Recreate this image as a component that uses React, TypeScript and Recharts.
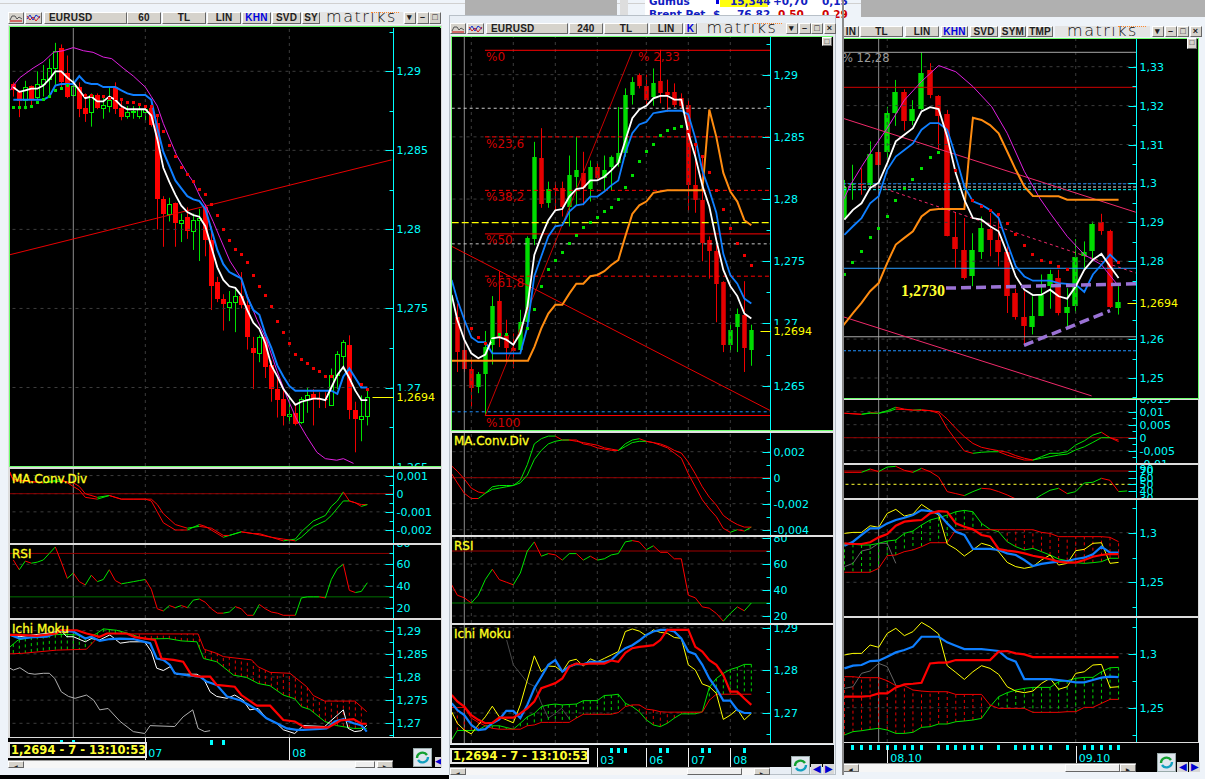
import React from 'react';
import { ComposedChart, Line, Bar, XAxis, YAxis, ReferenceLine } from 'recharts';

type Pt = { i: number; v: number };
const seq = (vals: number[], start = 0): Pt[] => vals.map((v, k) => ({ i: start + k, v }));
const pairs = (l: number[][]): Pt[] => l.map(([i, v]) => ({ i, v }));
const lead = (vals: number[]): Pt[] => vals.map((v, k) => ({ i: k === 0 ? -0.8 : k - 1, v }));

// ---------- window 1 : EURUSD 60 ----------
const w1Ohlc = [
[1.2892,1.2893,1.2884,1.2888],[1.2887,1.2888,1.2871,1.2881],[1.2882,1.2894,1.2876,1.289],[1.2891,1.2891,1.2878,1.2882],
[1.2884,1.29,1.2882,1.2892],[1.2892,1.2904,1.2884,1.2895],[1.2895,1.2908,1.2885,1.2902],[1.2902,1.2918,1.2891,1.2913],
[1.2915,1.2917,1.289,1.2893],[1.2899,1.291,1.2883,1.2884],[1.2885,1.2895,1.2884,1.2891],[1.289,1.2893,1.2871,1.2876],
[1.2877,1.2886,1.2868,1.2873],[1.2874,1.2886,1.2865,1.2885],[1.2885,1.2886,1.2876,1.2877],[1.2877,1.2883,1.287,1.2879],
[1.2878,1.289,1.2874,1.2882],[1.289,1.2893,1.2873,1.2876],[1.2877,1.2883,1.2869,1.2871],[1.2872,1.2878,1.287,1.2874],
[1.2874,1.2878,1.287,1.2875],[1.2872,1.2878,1.287,1.2876],[1.2874,1.2877,1.2869,1.2876],[1.2877,1.2879,1.2865,1.2866],
[1.2867,1.2872,1.28,1.2819],[1.2819,1.2821,1.2789,1.281],[1.281,1.282,1.2805,1.2816],[1.2817,1.2817,1.2789,1.2804],
[1.2804,1.281,1.2792,1.2806],[1.2808,1.2814,1.2794,1.2799],[1.2799,1.281,1.2787,1.2806],[1.2806,1.2813,1.278,1.2807],
[1.2814,1.2816,1.2783,1.2793],[1.2793,1.2802,1.2749,1.2764],[1.2767,1.277,1.2754,1.2756],[1.2756,1.2759,1.2736,1.2753],
[1.2751,1.2761,1.2742,1.2754],[1.2754,1.2762,1.2735,1.2758],[1.2758,1.2773,1.275,1.2752],[1.2752,1.2755,1.2724,1.2732],
[1.2725,1.2732,1.2699,1.2722],[1.2722,1.2733,1.2716,1.2732],[1.2732,1.2732,1.2706,1.2713],[1.2714,1.2717,1.2691,1.2699],
[1.2699,1.2707,1.2681,1.2692],[1.2693,1.27,1.2676,1.2682],[1.2682,1.2694,1.2677,1.2683],[1.2684,1.269,1.2676,1.2677],
[1.2678,1.2694,1.2677,1.2693],[1.2693,1.27,1.2684,1.2695],[1.2696,1.2699,1.2676,1.2693],[1.2693,1.2697,1.2687,1.2692],
[1.2693,1.2697,1.2687,1.2692],[1.2689,1.2712,1.2689,1.2708],[1.2708,1.2723,1.2699,1.2721],[1.272,1.273,1.2711,1.2729],
[1.2727,1.2733,1.268,1.2686],[1.2686,1.2691,1.2659,1.268],[1.268,1.2695,1.2666,1.2682],[1.2682,1.2699,1.2676,1.2694]];
const w1White = [1.289,1.2887,1.2888,1.2889,1.2889,1.2891,1.2895,1.29,1.29,1.2896,1.2893,1.2888,1.2883,1.2884,1.2881,1.2881,1.2884,1.2882,1.2878,1.2876,1.2876,1.2876,1.2876,1.2872,1.2857,1.2839,1.283,1.2822,1.2815,1.2811,1.2809,1.2808,1.2802,1.2789,1.2776,1.2768,1.2764,1.2763,1.2758,1.2749,1.2741,1.2737,1.2728,1.2714,1.2707,1.2699,1.2694,1.2689,1.2691,1.2692,1.2693,1.2693,1.2692,1.27,1.2708,1.2713,1.2706,1.2698,1.2692,1.2692];
const w1Blue = [1.2882,1.2882,1.2882,1.2882,1.2882,1.2882,1.2884,1.2891,1.2892,1.2892,1.2892,1.2897,1.2893,1.2892,1.2892,1.289,1.289,1.289,1.2888,1.2886,1.2885,1.2885,1.2885,1.2882,1.2864,1.2849,1.284,1.2831,1.2826,1.2821,1.2819,1.2818,1.2813,1.28,1.2787,1.2778,1.2773,1.2771,1.2769,1.2757,1.2749,1.2746,1.2734,1.2725,1.2714,1.2707,1.2701,1.2698,1.2698,1.2698,1.2698,1.2698,1.2698,1.2698,1.2696,1.2707,1.2712,1.2706,1.27,1.27];
const w1Magenta = [[-0.5,1.2888],[0,1.2891],[1.1,1.2896],[3.3,1.2902],[5,1.2906],[6.7,1.2912],[8.3,1.2913],[10,1.2915],[11.7,1.2913],[13.3,1.2912],[15,1.2909],[16.4,1.2908],[18.3,1.2902],[20,1.2897],[22,1.289],[23,1.2884],[24,1.2878],[25,1.2867],[26.1,1.2857],[27.2,1.2847],[28.9,1.2836],[30,1.283],[31.1,1.2821],[32.2,1.2814],[33.3,1.2805],[34.4,1.2795],[36.1,1.278],[37.8,1.277],[38.9,1.2759],[40.6,1.2743],[42.2,1.273],[43.9,1.2711],[45.6,1.2694],[47.2,1.268],[48.9,1.2669],[50.6,1.2659],[52,1.2655],[53.9,1.2654],[55,1.2655],[56.7,1.2652]];
const w1SarGreen = [1.2877,1.2877,1.2877,1.2878,1.288,1.2882,1.2884,1.2888,1.2889,1.2891];
const w1SarRed = [1.2885,1.2885,1.2884,1.2884,1.2883,1.2883,1.2882,1.288,1.288,1.2879,1.2878,1.2878,1.2872,1.2862,1.2853,1.2846,1.2839,1.2835,1.283,1.2825,1.2822,1.2816,1.2809,1.28,1.2793,1.2787,1.2784,1.2779,1.2771,1.2764,1.2758,1.2751,1.2742,1.2735,1.2728,1.2721,1.2718,1.2715,1.2712,1.271,1.2707,1.2707];
const w1SarRedEnd = [[58,1.2702],[59,1.2699]];
const w1Trend = [[-0.55,1.2784],[63.05,1.2844]];
const w1MacdFast = [[-0.55,0.0012],[0,0.0007],[2,0.0007],[5,0.0006],[8,0.0008],[10,0.0004],[11,0.0002],[12,-0.0002],[14,-0.0003],[16,-0.0001],[18,-0.0003],[20,-0.0003],[22,-0.0003],[23,-0.0004],[24,-0.001],[25,-0.0016],[27,-0.002],[29,-0.002],[31,-0.0017],[32,-0.0018],[33,-0.002],[35,-0.0024],[36,-0.0023],[38,-0.0021],[40,-0.0022],[41,-0.0022],[43,-0.0024],[45,-0.0026],[47,-0.0025],[48,-0.0021],[50,-0.0015],[52,-0.0012],[53,-0.0007],[54,-0.0004],[55,0.0001],[56,-0.0004],[58,-0.0006],[59,-0.0006]];
const w1MacdSlow = [[-0.55,0.0011],[0,0.0008],[2,0.0007],[5,0.0006],[8,0.0007],[10,0.0006],[11,0.0004],[12,0],[14,-0.0002],[16,-0.0001],[18,-0.0003],[22,-0.0003],[23,-0.0003],[24,-0.0006],[25,-0.0011],[27,-0.0017],[29,-0.0019],[31,-0.0018],[33,-0.0019],[35,-0.0023],[36,-0.0023],[38,-0.0021],[40,-0.0022],[43,-0.0024],[45,-0.0025],[47,-0.0026],[48,-0.0024],[50,-0.0018],[52,-0.0015],[53,-0.0012],[54,-0.0008],[55,-0.0004],[56,-0.0004],[57,-0.0005],[58,-0.0007],[59,-0.0006]];
const w1Rsi = [64,55,63,61,62,64,70,76,62,47,52,44,41,50,44,46,55,45,42,43,44,45,46,37,19,17,22,20,22,20,27,28,25,19,15,15,16,21,19,13,13,23,19,16,15,13,13,13,29,30,30,30,29,46,56,60,36,34,35,43];
const w1IchiWhite = [[-0.55,1.2892],[1.1,1.2887],[3.3,1.2891],[5.6,1.2894],[8,1.29],[8.9,1.2887],[10,1.2887],[12,1.2876],[13,1.2883],[14.4,1.288],[16.1,1.2891],[17.8,1.2873],[19.4,1.2876],[21.9,1.2876],[23,1.2855],[23.9,1.2819],[25,1.2814],[26.1,1.2822],[27.2,1.2806],[28.9,1.2806],[30.6,1.2806],[31.7,1.2797],[32.8,1.2768],[33.9,1.2758],[35.6,1.2754],[36.9,1.2761],[38.3,1.275],[39.4,1.2729],[40.8,1.2732],[42.2,1.2711],[43.9,1.27],[45,1.2686],[46.9,1.2678],[48.3,1.2695],[51.9,1.2693],[52.8,1.2704],[55,1.2729],[55.8,1.2689],[56.9,1.2682],[58,1.2684],[58.9,1.2696]];
const w1IchiBlue = [[-0.55,1.2891],[1.1,1.2883],[3.3,1.2886],[5.6,1.2887],[8,1.29],[10,1.2898],[12,1.2883],[13,1.2887],[14.4,1.2878],[16.1,1.2882],[17.8,1.2883],[20,1.2882],[21.9,1.2876],[22.8,1.2873],[23.9,1.284],[25,1.2837],[26.1,1.2826],[26.9,1.2808],[28.9,1.2804],[31.1,1.2801],[32.2,1.279],[33.9,1.2783],[35.6,1.2758],[37.8,1.275],[39.2,1.274],[40.6,1.2729],[42.2,1.2711],[43.9,1.27],[45.6,1.2689],[47.2,1.2686],[48.3,1.2686],[51.1,1.2688],[52.2,1.2689],[53.6,1.2704],[55,1.2709],[56.7,1.27],[58,1.2696],[58.9,1.2682]];
const w1IchiRed = [[-0.55,1.2891],[1.1,1.2891],[3.9,1.2889],[7.2,1.2894],[7.8,1.2901],[10.6,1.2901],[12.2,1.2894],[14.4,1.2887],[15.6,1.2894],[18.9,1.2894],[20.3,1.2886],[23.6,1.288],[24.7,1.284],[26.7,1.2837],[28.3,1.2833],[29.7,1.2804],[31.1,1.2801],[32.8,1.2801],[33.9,1.2783],[36.9,1.2779],[38,1.2761],[40.6,1.2738],[42.8,1.2738],[45,1.2707],[46.9,1.2704],[48.6,1.2691],[52.5,1.2691],[54.5,1.2706],[56.7,1.2709],[58,1.2699],[58.9,1.2699]];
const w1CloudA = [[-0.55,1.2865],[0.8,1.288],[3.3,1.2887],[6.1,1.2891],[8.3,1.2892],[10.6,1.2891],[12.2,1.2883],[13.9,1.2894],[15,1.2904],[17.2,1.2901],[19.2,1.2894],[21.9,1.2882],[25.8,1.2883],[28,1.2878],[30.6,1.2876],[31.7,1.284],[33.9,1.2833],[36.7,1.2804],[38.9,1.2799],[40.8,1.2786],[42.8,1.2781],[45,1.2761],[46.9,1.2753],[48,1.2736],[49.4,1.273],[51.9,1.2704],[53.9,1.2695],[56.7,1.2689],[58.9,1.2689]];
const w1CloudB = [[-0.55,1.285],[1.4,1.2851],[7.2,1.2858],[12.2,1.286],[13.9,1.2883],[15.6,1.2894],[20,1.2893],[30.8,1.2893],[31.8,1.286],[33.9,1.2851],[35,1.2844],[39.7,1.2837],[40.8,1.2822],[42.8,1.281],[46.1,1.2808],[48.9,1.2779],[50,1.276],[51.9,1.2748],[56.9,1.2748],[58.9,1.2725]];
const w1IchiGray = [[-0.55,1.2819],[0,1.2815],[1.1,1.282],[2.5,1.2808],[3.6,1.2806],[5,1.2808],[6,1.2808],[6.9,1.2797],[8,1.2768],[9.2,1.2758],[10.3,1.2754],[12.2,1.2761],[13.4,1.275],[14.4,1.2729],[15.8,1.2732],[17.8,1.2704],[20,1.2682],[21.9,1.2678],[22.8,1.2695],[26.9,1.2693],[28.3,1.2714],[29.9,1.2729],[30.8,1.2689],[31.9,1.2682],[32.8,1.2684]];
const w1Events = [8, 10, 33, 35];
const w1Days = [22, 46];
const w1DayLabels = ['07', '08'];

// ---------- window 2 : EURUSD 240 ----------
const w2Ohlc = [
[1.2705,1.2716,1.2661,1.2677],[1.2679,1.2707,1.2661,1.2663],[1.2663,1.2673,1.2633,1.2648],[1.2649,1.2661,1.2644,1.2659],
[1.2659,1.2694,1.2626,1.2681],[1.2683,1.2722,1.2667,1.2714],[1.2718,1.2742,1.2681,1.2689],[1.2691,1.2703,1.2669,1.268],
[1.268,1.2692,1.2664,1.2678],[1.2679,1.2711,1.2677,1.2701],[1.2701,1.277,1.2695,1.2769],[1.2768,1.2846,1.2763,1.2834],
[1.2833,1.2857,1.2793,1.2796],[1.2797,1.2814,1.2793,1.2808],[1.2809,1.2814,1.2791,1.2807],[1.2809,1.2814,1.2786,1.2794],
[1.2794,1.2835,1.2778,1.2819],[1.2818,1.285,1.2795,1.2823],[1.2821,1.2838,1.2795,1.2809],[1.2808,1.2831,1.2798,1.2826],
[1.2826,1.2829,1.2816,1.2817],[1.2817,1.2835,1.2807,1.2823],[1.2826,1.2835,1.2807,1.2834],[1.2829,1.2874,1.2826,1.2837],
[1.2837,1.2889,1.2834,1.2884],[1.2884,1.2898,1.2876,1.2894],[1.29,1.2901,1.2889,1.2891],[1.2891,1.29,1.2876,1.288],
[1.2882,1.2905,1.2875,1.2893],[1.2895,1.292,1.2877,1.2885],[1.2886,1.2896,1.287,1.2884],[1.2886,1.2893,1.2874,1.2876],
[1.2881,1.2885,1.2873,1.2875],[1.2876,1.288,1.279,1.2811],[1.2811,1.2845,1.2789,1.2799],[1.2799,1.2834,1.275,1.2765],
[1.2767,1.277,1.2736,1.2758],[1.2758,1.2763,1.2701,1.2732],[1.2733,1.2734,1.2677,1.2683],[1.2683,1.2701,1.2677,1.2695],
[1.2697,1.2712,1.2677,1.2708],[1.2707,1.2734,1.2661,1.268],[1.2679,1.2699,1.2666,1.2695]];
const w2White = [1.2723,1.2703,1.2687,1.2676,1.2672,1.2675,1.2688,1.2689,1.2687,1.2683,1.2692,1.2713,1.2755,1.277,1.2783,1.2791,1.2792,1.2802,1.2808,1.2809,1.2815,1.2815,1.2818,1.2823,1.2829,1.2847,1.2865,1.2872,1.2875,1.2881,1.2883,1.2883,1.288,1.288,1.2853,1.2834,1.2811,1.2794,1.2767,1.2743,1.273,1.2722,1.2708,1.2704];
const w2Blue = [1.2735,1.2719,1.2703,1.2689,1.2685,1.2685,1.2676,1.2676,1.2676,1.2676,1.2676,1.2697,1.2738,1.2754,1.277,1.2778,1.2779,1.279,1.2795,1.2796,1.2802,1.2802,1.2806,1.2811,1.2815,1.2837,1.2853,1.286,1.2862,1.2869,1.287,1.2871,1.2871,1.2871,1.2868,1.2849,1.2823,1.2807,1.2789,1.2756,1.2739,1.2732,1.272,1.2716];
const w2Orange = [[-0.8,1.267],[10.1,1.267],[11,1.2681],[12,1.2696],[13,1.2708],[14,1.2715],[15,1.2715],[16,1.2724],[17,1.2732],[18,1.2732],[19,1.2738],[20,1.2739],[21,1.2742],[22,1.2747],[23,1.2751],[24,1.277],[25,1.2788],[26,1.2795],[27,1.2798],[28,1.2805],[29,1.2806],[30,1.2807],[35,1.2807],[35.3,1.2826],[35.7,1.2853],[36,1.2872],[37,1.285],[38,1.2821],[39,1.2806],[40,1.2798],[41,1.2783],[42,1.2779]];
const w2SarGreen = [[5,1.2686],[6,1.2691],[7,1.2691],[10,1.2696],[11,1.2711],[12,1.273],[13,1.2743],[14,1.2751],[15,1.2757],[16,1.2764],[17,1.2771],[18,1.2777],[19,1.2781],[20,1.2785],[21,1.279],[22,1.2793],[23,1.28],[24,1.2809],[25,1.2819],[26,1.283],[27,1.2838],[28,1.2844],[29,1.2851],[30,1.2855],[31,1.2857],[32,1.2858]];
const w2SarRed = [[2,1.2696],[3,1.2689],[4,1.2684],[33,1.2854],[34,1.2844],[35,1.2834],[36,1.2821],[37,1.2807],[38,1.2792],[39,1.2776],[40,1.2764],[41,1.2755],[42,1.2747]];
const w2Fib = [1.29196, 1.285, 1.2807, 1.2772, 1.2738, 1.2626];
const w2FibDashed = [false, true, true, false, true, false];
const w2Rise = [[4,1.2626],[25.05,1.29196]];
const w2Fall = [[-0.8,1.2762],[44.7,1.263]];
const w2Macd = [0.0003,-0.0004,-0.0012,-0.0016,-0.0016,-0.0012,-0.0007,-0.0006,-0.0006,-0.0006,-0.0002,0.001,0.0026,0.003,0.0032,0.0032,0.0029,0.0029,0.0029,0.0026,0.0025,0.0023,0.0022,0.0021,0.0021,0.0026,0.0029,0.003,0.0028,0.0027,0.0025,0.0023,0.0019,0.0015,0.0003,-0.0007,-0.0017,-0.0024,-0.003,-0.0039,-0.0042,-0.004,-0.0041,-0.0038];
const w2Signal = [0.0009,0.0005,-0.0001,-0.0008,-0.0011,-0.0012,-0.0009,-0.0008,-0.0007,-0.0006,-0.0004,0.0002,0.0014,0.0021,0.0026,0.0028,0.0029,0.0029,0.0028,0.0027,0.0026,0.0025,0.0023,0.0022,0.0021,0.0024,0.0027,0.0028,0.0028,0.0027,0.0026,0.0024,0.0021,0.0019,0.0012,0.0003,-0.0007,-0.0015,-0.0021,-0.0029,-0.0033,-0.0036,-0.0038,-0.0038];
const w2Rsi = [44,36,34,30,36,48,56,48,46,44,53,70,77,66,68,67,63,68,68,63,66,63,64,67,68,77,78,77,71,74,69,69,64,64,36,34,27,26,22,16,22,27,24,30];
const w2IchiYellow = [1.2703,1.2676,1.266,1.2651,1.2672,1.2691,1.2716,1.2691,1.2684,1.2677,1.2719,1.2777,1.2834,1.2797,1.281,1.2809,1.2797,1.2822,1.2826,1.281,1.2827,1.282,1.2828,1.2836,1.2844,1.2891,1.2897,1.2892,1.2881,1.2895,1.2889,1.2887,1.2877,1.2875,1.2813,1.2801,1.2768,1.2762,1.2746,1.2685,1.2695,1.2709,1.2684,1.2699];
const w2IchiBlue = [1.2723,1.2707,1.2695,1.2672,1.266,1.2662,1.2676,1.2685,1.2705,1.2705,1.2688,1.2719,1.2758,1.2785,1.2813,1.2824,1.2797,1.2809,1.2815,1.2814,1.282,1.282,1.282,1.2824,1.284,1.2852,1.2859,1.287,1.2883,1.2891,1.2895,1.2895,1.2891,1.2875,1.2844,1.2838,1.2813,1.2781,1.2758,1.2729,1.2729,1.2707,1.27,1.27];
const w2IchiRed = [1.2742,1.2727,1.2715,1.2695,1.2684,1.2676,1.2677,1.2689,1.2689,1.2689,1.2699,1.2711,1.2727,1.2758,1.2764,1.277,1.2781,1.2809,1.2816,1.2814,1.2816,1.2816,1.2816,1.2823,1.282,1.2841,1.2852,1.2855,1.2857,1.2859,1.2871,1.2895,1.2895,1.2895,1.2895,1.2855,1.2844,1.2824,1.2813,1.2789,1.275,1.275,1.2734,1.2719];
const w2CloudA = [1.2637,1.2659,1.2659,1.2659,1.266,1.267,1.267,1.267,1.2666,1.2662,1.2676,1.2691,1.2699,1.2715,1.2719,1.2721,1.2719,1.272,1.2721,1.2729,1.2729,1.2729,1.2741,1.2742,1.2744,1.2723,1.2715,1.2703,1.2684,1.2672,1.2668,1.2676,1.2688,1.2698,1.2698,1.2698,1.2703,1.276,1.2781,1.2793,1.2802,1.2807,1.2814,1.2814];
const w2CloudB = [1.2713,1.2713,1.2713,1.2688,1.2678,1.267,1.2664,1.2662,1.2662,1.2662,1.2662,1.267,1.2672,1.2678,1.2678,1.2678,1.2678,1.2678,1.2688,1.2697,1.2697,1.2697,1.2697,1.2697,1.2701,1.2715,1.2719,1.2719,1.2709,1.2707,1.2703,1.2702,1.2702,1.2702,1.2702,1.2702,1.2702,1.273,1.2744,1.2744,1.2744,1.2744,1.2744,1.2744];
const w2IchiGray = [[7.05,1.2871],[8,1.2813],[10.1,1.277],[11.1,1.2762],[12,1.2723],[13,1.2688],[14,1.2699],[14.9,1.2711],[16.1,1.2684]];
const w2Events = [5, 17, 18, 22, 23, 24, 29, 30, 35, 36, 41];
const w2Days = [20, 27, 33, 39];
const w2DayLabels = ['03', '06', '07', '08'];

// ---------- window 3 : daily ----------
const w3Ohlc = [
[1.2911,1.3009,1.2907,1.2992],[1.2996,1.3048,1.2958,1.2998],[1.2998,1.3039,1.2971,1.2996],[1.2996,1.3108,1.2992,1.3076],
[1.3081,1.3086,1.3043,1.3048],[1.3082,1.3197,1.3061,1.318],[1.318,1.3266,1.3148,1.3235],[1.3235,1.3242,1.3136,1.3161],
[1.3161,1.3214,1.315,1.3191],[1.3191,1.3337,1.3189,1.3283],[1.3291,1.3309,1.3219,1.3226],[1.3225,1.3227,1.3086,1.3174],
[1.3179,1.3189,1.2864,1.2866],[1.2862,1.2924,1.2783,1.2831],[1.283,1.2911,1.2753,1.2757],[1.2761,1.2872,1.2736,1.283],
[1.2825,1.2915,1.2806,1.2885],[1.2884,1.2924,1.2813,1.2854],[1.2855,1.2924,1.2787,1.2825],[1.2825,1.2838,1.2667,1.271],
[1.2719,1.2729,1.265,1.2657],[1.2657,1.2723,1.2586,1.2633],[1.2631,1.271,1.2612,1.266],[1.266,1.2766,1.2659,1.2714],
[1.2737,1.2778,1.2678,1.2766],[1.2757,1.2778,1.2661,1.2666],[1.2666,1.2731,1.2629,1.2683],[1.2684,1.2857,1.2667,1.2811],
[1.2813,1.2851,1.2783,1.2825],[1.2827,1.2902,1.2804,1.2896],[1.2902,1.2922,1.2868,1.2877],[1.2879,1.2881,1.268,1.2683],
[1.2679,1.2736,1.2663,1.2696]];
const w3White = [1.2907,1.2932,1.2949,1.2988,1.3002,1.3052,1.3108,1.3125,1.3142,1.3185,1.3196,1.3191,1.312,1.3026,1.2958,1.2911,1.2907,1.289,1.2877,1.2821,1.2761,1.2727,1.2713,1.2714,1.2727,1.271,1.2704,1.2736,1.2778,1.2804,1.2819,1.2787,1.2757];
const w3Blue = [1.2868,1.289,1.2911,1.2949,1.2967,1.3035,1.3069,1.3086,1.3103,1.3138,1.3155,1.3155,1.3138,1.3069,1.2992,1.2954,1.2945,1.2932,1.2911,1.2847,1.2787,1.2761,1.275,1.275,1.275,1.2744,1.2742,1.274,1.2721,1.2766,1.2791,1.2817,1.2796];
const w3Orange = [[-0.2,1.2633],[1,1.2667],[2,1.2693],[3,1.2723],[4,1.2744],[5,1.2796],[6,1.2843],[7,1.286],[8,1.2877],[9,1.2915],[10,1.2932],[11,1.2934],[14,1.2934],[14.5,1.3061],[15,1.3169],[16,1.3163],[17,1.315],[18,1.3129],[19,1.3082],[20,1.3035],[21,1.2992],[22,1.2968],[24,1.2967],[25,1.2967],[26,1.2958],[32,1.2958]];
const w3Magenta = [[-0.1,1.2958],[0.7,1.2996],[2,1.3043],[3.4,1.3091],[5,1.3142],[7,1.3214],[9,1.3262],[11,1.3303],[13,1.3287],[15,1.3249],[17.2,1.3197],[19,1.3129],[21,1.3031],[22.8,1.2962],[24,1.2924],[26,1.2864],[28,1.2817],[30,1.2791],[32,1.2736]];
const w3SarGreen = [1.2767,1.2798,1.2825,1.286,1.2883,1.2915,1.2955,1.2986,1.3011,1.3038,1.3067,1.308];
const w3SarRed = [[13,1.3033],[15,1.2956],[16,1.2941],[17,1.2931],[18,1.2921],[19,1.2898],[20,1.287],[21,1.284],[22,1.2817],[23,1.2802],[24,1.2796],[25,1.2787],[26,1.278],[32,1.2798]];
const w3Levels = [1.3337, 1.3247, 1.2606, 1.2999, 1.2991, 1.2984, 1.2782, 1.257];
const w3LevelColors = ['#a8a8a8', '#d00000', '#a8a8a8', '#1f90ff', '#d8d8d8', '#00ffff', '#2a9cff', '#1f90ff'];
const w3LevelDashed = [false, false, false, true, true, true, false, true];
const w3TrendTop = [[-0.1,1.3167],[34,1.2926]];
const w3TrendMid = [[3.4,1.2996],[34,1.277]];
const w3TrendLow = [[-0.1,1.2657],[28.85,1.2454]];
const w3PurpleFlat = [[11.86,1.2731],[34.03,1.2742]];
const w3PurpleRise = [[20.96,1.2584],[31,1.2673]];
const w3MacdFast = [0.0094,0.0092,0.009,0.0096,0.0094,0.0104,0.0117,0.011,0.0106,0.0108,0.0104,0.0094,0.0036,-0.0009,-0.0051,-0.006,-0.0056,-0.0054,-0.0054,-0.0067,-0.0077,-0.0086,-0.0086,-0.0073,-0.006,-0.006,-0.0054,-0.0028,-0.0012,0.001,0.0021,0,-0.0015];
const w3MacdSlow = [0.0094,0.0092,0.009,0.0094,0.0094,0.01,0.011,0.0108,0.0106,0.0105,0.0104,0.01,0.0072,0.0036,0.0004,-0.0022,-0.0037,-0.0044,-0.005,-0.0056,-0.0069,-0.0079,-0.0086,-0.0079,-0.0073,-0.0067,-0.0063,-0.0047,-0.0035,-0.0018,0,0,-0.0009];
const w3Rsi = [68,68,68,73,69,76,77,71,68,74,69,61,39,36,33,39,44,43,39,34,28,24,26,34,41,44,36,39,52,53,59,56,39,40];
const w3A1Yellow = [1.2993,1.3003,1.3003,1.307,1.3054,1.3195,1.3235,1.3168,1.3188,1.3285,1.3228,1.3178,1.2886,1.2836,1.2765,1.2826,1.2893,1.2869,1.2809,1.2701,1.2658,1.2641,1.2658,1.2725,1.2775,1.2674,1.2691,1.2819,1.2832,1.2893,1.2899,1.2691,1.2701];
const w3A1Blue = [1.2869,1.2909,1.2977,1.3044,1.3044,1.3094,1.3128,1.3151,1.3178,1.3228,1.3218,1.3195,1.3094,1.301,1.2977,1.2836,1.2836,1.2836,1.2826,1.2792,1.2775,1.2725,1.2664,1.2685,1.2698,1.2708,1.2715,1.2735,1.2748,1.2782,1.2859,1.2799,1.2799];
const w3A1Red = [1.2893,1.2886,1.2886,1.2903,1.2953,1.2987,1.307,1.3111,1.3121,1.3128,1.3195,1.3218,1.3211,1.3094,1.306,1.3034,1.2977,1.296,1.2836,1.2819,1.2809,1.2792,1.2768,1.2752,1.2732,1.2708,1.2698,1.2698,1.2725,1.2758,1.2775,1.2785,1.2785];
const w3A1CloudA = [1.2893,1.2883,1.2876,1.2876,1.2893,1.2916,1.2926,1.2993,1.3017,1.3077,1.3128,1.3151,1.3178,1.3211,1.3225,1.3211,1.3094,1.3034,1.301,1.2909,1.2859,1.2826,1.2842,1.2809,1.2775,1.2735,1.2718,1.2698,1.2691,1.2698,1.2708,1.2742,1.2742];
const w3A1CloudB = [1.2601,1.2601,1.2601,1.2601,1.2641,1.2768,1.2775,1.2809,1.2826,1.2859,1.2899,1.2899,1.2899,1.3027,1.303,1.303,1.303,1.303,1.303,1.303,1.303,1.303,1.303,1.3003,1.2993,1.296,1.296,1.296,1.296,1.296,1.296,1.2953,1.2909];
const w3A1Gray = [1.2658,1.2691,1.2815,1.2836,1.2893,1.2893,1.2691];
const w3B2Yellow = [1.2988,1.3003,1.3003,1.308,1.3059,1.3188,1.3235,1.3167,1.3204,1.329,1.3244,1.3182,1.2889,1.2827,1.2762,1.2833,1.2889,1.2864,1.2809,1.2694,1.2654,1.2639,1.2654,1.2725,1.2772,1.267,1.2694,1.2818,1.2833,1.2895,1.2901,1.2688,1.2694];
const w3B2Blue = [1.2864,1.2889,1.2895,1.2932,1.2935,1.2972,1.3012,1.3034,1.3065,1.3157,1.3157,1.3157,1.3105,1.3074,1.3043,1.3043,1.3043,1.3034,1.3025,1.2957,1.2926,1.2765,1.2765,1.2765,1.2765,1.2756,1.2747,1.2735,1.2735,1.2756,1.2778,1.2787,1.2784];
const w3B2Red = [1.2602,1.2602,1.2602,1.2608,1.2633,1.2633,1.2688,1.2716,1.2722,1.2731,1.291,1.2917,1.2917,1.2941,1.2941,1.2941,1.2941,1.2941,1.3019,1.3025,1.3003,1.2994,1.2969,1.2969,1.2969,1.2969,1.2969,1.2969,1.2969,1.2969,1.2969,1.2969,1.2969];
const w3B2CloudA = [1.2247,1.2278,1.2287,1.2299,1.2309,1.2293,1.2262,1.2262,1.2272,1.2318,1.2324,1.2349,1.2349,1.237,1.2377,1.2386,1.2401,1.2509,1.2602,1.2639,1.2664,1.2679,1.2688,1.2688,1.2688,1.2741,1.275,1.2772,1.2781,1.2781,1.2833,1.287,1.2873];
const w3B2CloudB = [1.2787,1.2787,1.2778,1.2778,1.2778,1.275,1.2704,1.2704,1.2664,1.2654,1.2648,1.2648,1.2648,1.2623,1.2623,1.2623,1.2623,1.2525,1.2494,1.2494,1.2494,1.2494,1.2457,1.2457,1.2457,1.2457,1.2463,1.2463,1.2503,1.2503,1.254,1.2577,1.2577];
const w3B2Gray = [1.2679,1.2694,1.2818,1.284,1.291,1.288,1.271];
const w3Events = [1,2,3,4,5,6,7,8,9,11,12,13,14,15,16,18,20,21,22,23,24,26,28,29,30,31,32];
const w3Days = [5, 27];
const w3DayLabels = ['08.10', '09.10'];

const statusText = '1,2694 - 7 - 13:10:53';
const CYAN = '#00ffff';
const GREEN = '#00e600';
const RED = '#ff0000';
const BLUE = '#0f7fff';
const MAG = '#e020e0';
const ORANGE = '#ff8c10';
const AXIS_FONT = '"DejaVu Sans", sans-serif';

const toRows = (o: number[][]) => o.map(([open, high, low, close], i) => ({ i, open, high, low, close, range: [low, high] }));
const dom = (v1: number, y1: number, v2: number, y2: number, top: number, bottom: number): [number, number] => {
  const k = (v1 - v2) / (y2 - y1);
  return [v2 - (bottom - y2) * k, v1 + (y1 - top) * k];
};

const L = (key: string, data: Pt[], color: string, w = 1, dash?: string) => (
  <Line key={key} data={data} dataKey="v" type="linear" stroke={color} strokeWidth={w} strokeDasharray={dash} dot={false} activeDot={false} isAnimationActive={false} legendType="none" />
);
const Dots = (key: string, data: Pt[], color: string, size = 3) => (
  <Line key={key} data={data} dataKey="v" stroke="none" isAnimationActive={false} legendType="none" activeDot={false}
    dot={(p: any) => <rect key={p.index} x={Math.round(p.cx - size / 2)} y={Math.round(p.cy - size / 2)} width={size} height={size} fill={color} />} />
);
// MACD and RSI curves: green while rising, red while falling
const Slope = (key: string, data: Pt[], w = 1) => {
  const out: React.ReactNode[] = [];
  let run: Pt[] = [data[0]];
  let up: boolean | null = null;
  const flush = (n: number) => { if (run.length > 1) out.push(L(key + n, run, up ? GREEN : RED, w)); };
  for (let k = 1; k < data.length; k++) {
    const d = data[k].v - data[k - 1].v;
    const u = d === 0 ? up ?? false : d > 0;
    if (up !== null && u !== up) { flush(k); run = [data[k - 1]]; }
    up = u;
    run.push(data[k]);
  }
  flush(data.length);
  return out;
};
const at = (s: Pt[], x: number): number | null => {
  for (let k = 1; k < s.length; k++) {
    if (x >= s[k - 1].i && x <= s[k].i) {
      const t = (x - s[k - 1].i) / (s[k].i - s[k - 1].i || 1);
      return s[k - 1].v + t * (s[k].v - s[k - 1].v);
    }
  }
  return null;
};
const Hatch = (key: string, a: Pt[], b: Pt[], n: number, min: number) => {
  const out: React.ReactNode[] = [];
  for (let i = 0; i < n; i++) {
    const va = at(a, i), vb = at(b, i);
    if (va === null || vb === null || Math.abs(va - vb) < min) continue;
    out.push(L(key + i, [{ i, v: va }, { i, v: vb }], va > vb ? '#00d800' : '#e80000', 1, '3 3'));
  }
  return out;
};

const candle = (style: { bw: number; hollow: boolean }) => (p: any) => {
  const { x, y, width, height, payload } = p;
  const { open, close, high, low } = payload;
  const k = height / Math.max(high - low, 1e-9);
  const top = Math.round(y + (high - Math.max(open, close)) * k);
  const bot = Math.round(y + (high - Math.min(open, close)) * k);
  const cx = Math.round(x + width / 2 - 0.5);
  const up = close >= open;
  const c = up ? '#00f000' : '#ff0000';
  const bh = Math.max(bot - top, 1);
  const { bw, hollow } = style;
  const left = cx - Math.floor(bw / 2);
  return (
    <g>
      <line x1={cx + 0.5} x2={cx + 0.5} y1={y} y2={y + height} stroke={up ? '#00e000' : '#f00000'} />
      {hollow && up
        ? <rect x={left + 0.5} y={top + 0.5} width={bw - 1} height={bh} fill="#000" stroke={c} />
        : <g>
            <rect x={left} y={top} width={bw} height={bh} fill={hollow ? c : up ? '#009a00' : '#b00000'} />
            {!hollow && <rect x={left + 1} y={top} width={bw - 2} height={bh} fill={up ? '#00dc00' : '#e60000'} />}
          </g>}
    </g>
  );
};

function Panel(props: any) {
  const { x, y, w, axisW, h, xDom, yRef, labels, minor = [], last, lastLen = 9, vgrid = [], cross, ohlc, bw = 5, hollow = false, noGrid = false, children } = props;
  const yDom = dom(yRef[0], yRef[1], yRef[2], yRef[3], y, y + h);
  const ticks = [...minor, ...labels, ...(last ? [last] : [])];
  const fmt = (v: number) => String(v).replace('.', ',');
  const renderTick = (p: any) => {
    const v = p.payload.value;
    const isLast = v === last;
    const isMajor = labels.includes(v);
    return (
      <g key={v}>
        <line x1={p.x - (isLast ? lastLen : isMajor ? 8 : 4)} x2={p.x} y1={Math.round(p.y) + 0.5} y2={Math.round(p.y) + 0.5} stroke={isLast ? '#ffff00' : CYAN} />
        {isLast && <rect x={p.x + 2} y={p.y - 6} width={42} height={12} fill="#000" />}
        {(isMajor || isLast) && (
          <text x={p.x + 3} y={p.y + 4} fontSize={11} fontFamily={AXIS_FONT} fill={isLast ? '#ffff00' : CYAN}>{fmt(v)}</text>
        )}
      </g>
    );
  };
  return (
    <div style={{ position: 'absolute', left: x, top: y, width: w, height: h, background: '#000' }}>
      <ComposedChart width={w} height={h} data={ohlc ? toRows(ohlc) : undefined} margin={{ top: 0, right: 0, bottom: 0, left: 0 }}>
        <XAxis type="number" dataKey="i" domain={xDom} hide allowDataOverflow />
        <YAxis orientation="right" width={axisW} type="number" domain={yDom} allowDataOverflow ticks={ticks} interval={0}
          axisLine={{ stroke: CYAN }} tickLine={false} tickSize={0} tickMargin={0} tick={renderTick} />
        {!noGrid && labels.map((v: number) => <ReferenceLine key={'h' + v} y={v} stroke="#3c3c3c" strokeDasharray="3 4" ifOverflow="hidden" />)}
        {vgrid.map((v: number) => <ReferenceLine key={'v' + v} x={v} stroke="#3c3c3c" strokeDasharray="3 4" />)}
        {cross !== undefined && <ReferenceLine x={cross} stroke="#8c8c8c" />}
        {ohlc && <Bar dataKey="range" barSize={bw} isAnimationActive={false} shape={candle({ bw, hollow })} legendType="none" />}
        {children}
      </ComposedChart>
    </div>
  );
}

function DateBar({ x, y, w, h, xDom, days, dayLabels, events, blockTop = 3, lineTop = 0, base }: any) {
  const renderDay = (p: any) => {
    const k = days.indexOf(p.payload.value);
    return (
      <g key={p.payload.value}>
        <line x1={Math.round(p.x) + 0.5} x2={Math.round(p.x) + 0.5} y1={lineTop} y2={h} stroke="#f0f0f0" />
        <text x={p.x + 3} y={base} fontSize={11} fontFamily={AXIS_FONT} fill={CYAN}>{dayLabels[k]}</text>
      </g>
    );
  };
  return (
    <div style={{ position: 'absolute', left: x, top: y, width: w, height: h }}>
      <ComposedChart width={w} height={h} margin={{ top: 0, right: 0, bottom: 0, left: 0 }}>
        <XAxis type="number" dataKey="i" orientation="top" domain={xDom} allowDataOverflow height={1} ticks={days} interval={0} axisLine={false} tickLine={false} tick={renderDay} />
        <YAxis hide domain={[0, 1]} />
        <Line data={events.map((i: number) => ({ i, v: 1 }))} dataKey="v" stroke="none" isAnimationActive={false} legendType="none" activeDot={false}
          dot={(p: any) => <rect key={p.index} x={Math.round(p.cx - 1.5)} y={blockTop} width={3} height={5} fill={CYAN} />} />
      </ComposedChart>
    </div>
  );
}

const Box = ({ x, y, w, h, bg, style, children }: any) => (
  <div style={{ position: 'absolute', left: x, top: y, width: w, height: h, background: bg, ...style }}>{children}</div>
);
const Txt = ({ x, y, c, s = 12, b, f, stroke, children }: any) => (
  <div style={{ position: 'absolute', left: x, top: y, color: c, fontSize: s, fontWeight: b ? 700 : 400, fontFamily: f || AXIS_FONT, lineHeight: 1, whiteSpace: 'nowrap', WebkitTextStroke: stroke }}>{children}</div>
);
const btnStyle: React.CSSProperties = {
  background: '#d6d3cc', borderTop: '1px solid #fff', borderLeft: '1px solid #fff', borderRight: '1px solid #666', borderBottom: '1px solid #666',
  boxSizing: 'border-box', textAlign: 'center', overflow: 'hidden',
  font: '700 10px "Liberation Sans",sans-serif', lineHeight: '10px', letterSpacing: 0.2, color: '#202020',
};
function Title({ y, h, segs, logoX, logoW, btnX, btns }: any) {
  return (
    <>
      {segs.map((s: any) => (
        <div key={s.t + s.x} style={{ ...btnStyle, position: 'absolute', left: s.x, top: y, width: s.w, height: h, color: s.c || '#202020', textAlign: s.l ? 'left' : 'center', paddingLeft: s.l ? 4 : 0 }}>{s.t}</div>
      ))}
      <Box x={logoX} y={y} w={logoW} h={h} bg="#e4e4e4" style={{ overflow: 'hidden', textAlign: 'center', color: '#111', font: '200 16px "DejaVu Sans ExtraLight","DejaVu Sans",sans-serif', lineHeight: '9px', letterSpacing: 1.5 }}>matriks</Box>
      <Box x={logoX + logoW - 32} y={y} w={28} h={0} style={{ borderTop: '1px dotted #ff8a30' }} />
      {btns.map((t: string, k: number) => (
        <div key={k} style={{ ...btnStyle, position: 'absolute', left: btnX + k * 12.5, top: y, width: 12, height: h, lineHeight: '9px', fontSize: 9 }}>{t}</div>
      ))}
    </>
  );
}
const Icons = ({ x, y, h }: any) => (
  <>
    <Box x={x} y={y} w={16} h={h} style={{ ...btnStyle }}><svg width="14" height={h - 2}><polyline points="1,7 3,3 6,3 8,6 10,4 13,6" fill="none" stroke="#555" /><line x1="1" y1="8" x2="13" y2="8" stroke="#c00" /></svg></Box>
    <Box x={x + 17} y={y} w={17} h={h} style={{ ...btnStyle }}><svg width="15" height={h - 2}><polyline points="1,6 4,2 7,7 10,2 14,5" fill="none" stroke="#1030d0" /><polyline points="1,3 4,7 7,4 10,8 14,3" fill="none" stroke="#d02020" /></svg></Box>
  </>
);
const Refresh = ({ x, y }: any) => (
  <Box x={x} y={y} w={19} h={19} bg="#dfe6ee" style={{ border: '1px solid #9aa', boxSizing: 'border-box' }}>
    <svg width="17" height="17"><path d="M3 9 a5.5 5.5 0 0 1 10 -3" fill="none" stroke="#12a030" strokeWidth="2.4" /><path d="M14 8 a5.5 5.5 0 0 1 -10 3" fill="none" stroke="#12a0c0" strokeWidth="2.4" /></svg>
  </Box>
);
const Scroll = ({ x, y, w, h, thumbX, thumbW }: any) => (
  <Box x={x} y={y} w={w} h={h} bg="#f6f6f6" style={{ borderTop: '1px solid #999', boxSizing: 'border-box' }}>
    <Box x={0} y={0} w={16} h={h - 1} style={{ ...btnStyle, fontSize: 7 }}>◂</Box>
    <Box x={thumbX} y={0} w={thumbW} h={h - 1} style={{ ...btnStyle, background: '#eee' }} />
    <Box x={w - 16} y={0} w={16} h={h - 1} style={{ ...btnStyle, fontSize: 7 }}>▸</Box>
  </Box>
);
const Status = ({ x, y }: any) => (
  <Box x={x} y={y} w={139} h={16} bg="#000" style={{ border: '2px solid #e8e8e8', boxSizing: 'border-box', color: '#ffff30', font: '700 11.5px "DejaVu Sans",sans-serif', lineHeight: '12px', whiteSpace: 'nowrap', paddingLeft: 1, overflow: 'hidden' }}>{statusText}</Box>
);
const Nav = ({ x, y }: any) => (
  <>
    <Box x={x} y={y} w={11} h={10} bg="#d8d8d8" style={{ color: '#0000d0', fontSize: 10, lineHeight: '9px', textAlign: 'center' }}>◀</Box>
    <Box x={x + 12} y={y} w={11} h={10} bg="#d8d8d8" style={{ color: '#0000d0', fontSize: 10, lineHeight: '9px', textAlign: 'center' }}>▶</Box>
  </>
);
const PANEL_LABEL = { c: '#ffff20', s: 12, stroke: '0.3px #ffff20' };
const FIB = '#d00000';

function Window1() {
  const xDom = [-0.55, 63.36];
  const P = { x: 10, w: 431, axisW: 47.5, xDom, vgrid: [22, 46], cross: 10 };
  const macdSeries = [...Slope('f', pairs(w1MacdFast)), ...Slope('s', pairs(w1MacdSlow))];
  const a = pairs(w1CloudA), b = pairs(w1CloudB);
  return (
    <>
      <Box x={8} y={25} w={434} h={743} bg="#dcdcdc" />
      <Box x={9} y={26} w={432} h={441} bg="#000" style={{ border: '1px solid #70ff70', boxSizing: 'border-box' }} />
      <Panel {...P} y={28} h={438} yRef={[1.29, 71.3, 1.27, 387.5]} labels={[1.29, 1.285, 1.28, 1.275, 1.27, 1.265]} minor={[1.2925, 1.2875, 1.2825, 1.2775, 1.2725, 1.2675]} last={1.2694} lastLen={21} ohlc={w1Ohlc} bw={5} hollow>
        {L('trend', pairs(w1Trend), '#e80000')}
        {L('mag', pairs(w1Magenta), MAG)}
        {L('blue', seq(w1Blue), BLUE, 2)}
        {L('white', seq(w1White), '#ffffff', 1.8)}
        {Dots('sg', seq(w1SarGreen), '#00e000')}
        {Dots('sr', seq(w1SarRed, 12), '#f00000')}
        {Dots('sr2', pairs(w1SarRedEnd), '#f00000')}
      </Panel>
      <Panel {...P} y={469} h={74} yRef={[0, 493.7, -0.002, 530]} labels={[0.001, 0, -0.001, -0.002]} minor={[0.0005, -0.0005, -0.0015]}>
        <ReferenceLine y={0} stroke="#900000" />
        {macdSeries}
      </Panel>
      <Panel {...P} y={545} h={73} yRef={[60, 564.3, 20, 607.7]} labels={[80, 60, 40, 20]} minor={[70, 50, 30]}>
        <ReferenceLine y={70} stroke="#900000" />
        <ReferenceLine y={30} stroke="#007000" />
        {Slope('r', seq(w1Rsi))}
      </Panel>
      <Panel {...P} y={620} h={117} yRef={[1.29, 630.7, 1.27, 723.3]} labels={[1.29, 1.285, 1.28, 1.275, 1.27]} minor={[1.2875, 1.2825, 1.2775, 1.2725, 1.2675]}>
        {L('g', pairs(w1IchiGray), '#b0b0b0')}
        {Hatch('h', a, b, 60, 0.0002)}
        {L('a', a, '#00e000')}
        {L('b', b, '#f00000')}
        {L('w', pairs(w1IchiWhite), '#ffffff')}
        {L('bl', pairs(w1IchiBlue), BLUE, 2.2)}
        {L('re', pairs(w1IchiRed), RED, 2.2)}
      </Panel>
      <Box x={8} y={738} w={433} h={22} bg="#000" />
      <DateBar x={10} y={738} w={383.5} h={22} xDom={xDom} days={w1Days} dayLabels={w1DayLabels} events={w1Events} blockTop={2} base={19} />
      <Status x={8} y={742} />
      <Scroll x={8} y={760} w={385} h={8} thumbX={347} thumbW={20} />
      <Box x={393} y={760} w={48} h={8} bg="#000" />
      <Refresh x={413} y={748} />
      <Box x={435} y={757} w={6} h={10} bg="#d8d8d8" style={{ color: '#0000d0', fontSize: 9, lineHeight: '9px', overflow: 'hidden' }}>◀</Box>
      <Txt x={12} y={473} {...PANEL_LABEL}>MA.Conv.Div</Txt>
      <Txt x={12} y={548} {...PANEL_LABEL}>RSI</Txt>
      <Txt x={12} y={623} {...PANEL_LABEL}>Ichi Moku</Txt>
      <Title y={12} h={12} logoX={320} logoW={83} btnX={404} btns={['▾', '–', '□']}
        segs={[{ x: 44, w: 83, t: 'EURUSD', l: 1 }, { x: 127, w: 34, t: '60' }, { x: 162, w: 44, t: 'TL' }, { x: 207, w: 34, t: 'LIN' }, { x: 242, w: 29, t: 'KHN', c: '#0000e0' }, { x: 272, w: 29, t: 'SVD' }, { x: 302, w: 18, t: 'SY' }]} />
      <Icons x={8} y={12} h={12} />
    </>
  );
}

function Window2() {
  const xDom = [-0.757, 44.74];
  const P = { x: 452, w: 381, axisW: 62.5, xDom, vgrid: [2, 8, 14, 20, 27, 33, 39], cross: 1 };
  const a = lead(w2CloudA), b = lead(w2CloudB);
  const full = (k: string, v: number, c: string, dash?: string, w = 1) => L(k, [{ i: -0.8, v }, { i: 44.74, v }], c, w, dash);
  return (
    <>
      <Box x={449} y={15} w={387} h={760} bg="#e8eef5" style={{ border: '1px solid #b8c0c8', boxSizing: 'border-box' }} />
      <Box x={450} y={36} w={384} h={708} bg="#e0e0e0" />
      <Box x={451} y={36} w={382} h={395} bg="#000" style={{ border: '1px solid #70ff70', boxSizing: 'border-box' }} />
      <Panel {...P} y={37} h={393} yRef={[1.29, 74.67, 1.265, 385.67]} labels={[1.29, 1.285, 1.28, 1.275, 1.27, 1.265]} minor={[1.2925, 1.2875, 1.2825, 1.2775, 1.2725, 1.2675]} last={1.2694} lastLen={10} ohlc={w2Ohlc} bw={5}>
        {w2Fib.map((v, k) => L('fib' + k, [{ i: 3.95, v }, { i: 44.74, v }], RED, 1, w2FibDashed[k] ? '4 3' : undefined))}
        {full('ww', 1.2873, '#c8c8c8', '3 3')}
        {full('ww2', 1.2764, '#c8c8c8', '3 3')}
        {full('yy', 1.2781, '#ffff00', '7 3', 1.2)}
        {full('bb', 1.2629, '#1f90ff', '3 3')}
        {L('rise', pairs(w2Rise), '#c80000')}
        {L('fall', pairs(w2Fall), '#e80000')}
        {L('or', pairs(w2Orange), ORANGE, 2)}
        {L('bl', lead(w2Blue), BLUE, 1.8)}
        {L('wh', lead(w2White), '#ffffff', 1.8)}
        {Dots('sg', pairs(w2SarGreen), '#00e000')}
        {Dots('sr', pairs(w2SarRed), '#f00000')}
      </Panel>
      <Panel {...P} y={433} h={102} yRef={[0.002, 451.7, -0.004, 529.7]} labels={[0.002, 0, -0.002, -0.004]} minor={[0.003, 0.001, -0.001, -0.003]}>
        <ReferenceLine y={0} stroke="#900000" />
        {Slope('f', lead(w2Macd))}
        {Slope('s', lead(w2Signal))}
      </Panel>
      <Panel {...P} y={537} h={86} yRef={[60, 564, 20, 616]} labels={[80, 60, 40, 20]} minor={[70, 50, 30]}>
        <ReferenceLine y={70} stroke="#a00000" />
        <ReferenceLine y={30} stroke="#008000" />
        {Slope('r', lead(w2Rsi))}
      </Panel>
      <Panel {...P} y={625} h={118} yRef={[1.29, 627.7, 1.27, 713]} labels={[1.29, 1.28, 1.27]} minor={[1.285, 1.275, 1.265]}>
        {L('g', pairs(w2IchiGray), '#484848')}
        {Hatch('h', a, b, 43, 0.0002)}
        {L('a', a, '#00e000')}
        {L('b', b, '#f00000')}
        {L('y', lead(w2IchiYellow), '#ffff00')}
        {L('bl', lead(w2IchiBlue), BLUE, 2.2)}
        {L('re', lead(w2IchiRed), RED, 2.2)}
      </Panel>
      <Box x={450} y={745} w={384} h={22} bg="#000" />
      <DateBar x={452} y={745} w={318.5} h={22} xDom={xDom} days={w2Days} dayLabels={w2DayLabels} events={w2Events} lineTop={3} base={19} />
      <Status x={450} y={748} />
      <Scroll x={450} y={767} w={320} h={8} thumbX={237} thumbW={55} />
      <Refresh x={791} y={756} />
      <Nav x={811} y={764} />
      <Txt x={454} y={435} {...PANEL_LABEL}>MA.Conv.Div</Txt>
      <Txt x={454} y={540} {...PANEL_LABEL}>RSI</Txt>
      <Txt x={454} y={628} {...PANEL_LABEL}>Ichi Moku</Txt>
      <Txt x={486} y={51} c={FIB}>%0</Txt>
      <Txt x={486} y={138} c={FIB}>%23,6</Txt>
      <Txt x={486} y={191} c={FIB}>%38,2</Txt>
      <Txt x={486} y={234} c={FIB}>%50</Txt>
      <Txt x={486} y={277} c={FIB}>%61,8</Txt>
      <Txt x={486} y={417} c={FIB}>%100</Txt>
      <Txt x={638} y={51} c={FIB}>% 2,33</Txt>
      <Title y={23} h={11} logoX={698} logoW={88} btnX={786} btns={['▾', '–', '□', '×']}
        segs={[{ x: 486, w: 82, t: 'EURUSD', l: 1 }, { x: 569, w: 34, t: '240' }, { x: 604, w: 44, t: 'TL' }, { x: 649, w: 34, t: 'LIN' }, { x: 684, w: 13, t: 'K', c: '#0000e0' }]} />
      <Icons x={450} y={23} h={11} />
      <Box x={822} y={37} w={10} h={9} style={{ ...btnStyle, fontSize: 8, lineHeight: '7px' }}>□</Box>
    </>
  );
}

function Window3() {
  const xDom = [-0.163, 34.09];
  const P = { x: 843, w: 355, axisW: 61.5, xDom, vgrid: [5, 27], cross: 4 };
  const a1 = seq(w3A1CloudA), b1 = seq(w3A1CloudB), a2 = seq(w3B2CloudA), b2 = seq(w3B2CloudB);
  return (
    <>
      <Box x={843} y={38} w={356} h={706} bg="#dcdcdc" />
      <Box x={843} y={38} w={356} h={361} bg="#000" style={{ borderTop: '1px solid #70ff70', borderBottom: '1px solid #70ff70', borderRight: '1px solid #70ff70', boxSizing: 'border-box' }} />
      <Panel {...P} y={39} h={359} yRef={[1.33, 66.7, 1.25, 378]} labels={[1.33, 1.32, 1.31, 1.3, 1.29, 1.28, 1.26, 1.25]} minor={[1.325, 1.315, 1.305, 1.295, 1.285, 1.275, 1.27, 1.265, 1.255, 1.245]} last={1.2694} lastLen={9} ohlc={w3Ohlc} bw={6}>
        {w3Levels.map((v, k) => L('lv' + k, [{ i: -0.163, v }, { i: 34.09, v }], w3LevelColors[k], 1, w3LevelDashed[k] ? '3 2' : undefined))}
        {L('t1', pairs(w3TrendTop), '#f02a6a')}
        {L('t2', pairs(w3TrendMid), '#f02a6a', 1, '3 3')}
        {L('t3', pairs(w3TrendLow), '#f02a6a')}
        {L('mg', pairs(w3Magenta), MAG)}
        {L('or', pairs(w3Orange), ORANGE, 2)}
        {L('bl', seq(w3Blue), BLUE, 1.8)}
        {L('wh', seq(w3White), '#ffffff', 1.8)}
        {Dots('sg', seq(w3SarGreen), '#00e000')}
        {Dots('sr', pairs(w3SarRed), '#e80000')}
        {L('p1', pairs(w3PurpleFlat), '#9a72d4', 3.5, '10 5')}
        {L('p2', pairs(w3PurpleRise), '#9a72d4', 3.5, '10 5')}
      </Panel>
      <Panel {...P} y={400} h={63} yRef={[0.01, 411.7, -0.005, 450.7]} labels={[0.015, 0.01, 0.005, 0, -0.005, -0.01]} minor={[0.0075, 0.0025, -0.0025, -0.0075]}>
        <ReferenceLine y={0} stroke="#900000" />
        {Slope('f', seq(w3MacdFast))}
        {Slope('s', seq(w3MacdSlow))}
      </Panel>
      <Panel {...P} y={465} h={33} yRef={[70, 471, 50, 484.3]} labels={[70, 60, 50, 40, 30]} noGrid>
        <ReferenceLine y={70} stroke="#a00000" />
        <ReferenceLine y={50} stroke="#ffff30" strokeDasharray="3 3" />
        {Slope('r', seq(w3Rsi))}
      </Panel>
      <Txt x={1139.5} y={464} c={CYAN} s={11}>90</Txt>
      <Panel {...P} y={500} h={116} yRef={[1.3, 532.7, 1.25, 582.3]} labels={[1.3, 1.25]} minor={[1.325, 1.275, 1.225]}>
        {L('g', seq(w3A1Gray), '#666666')}
        {Hatch('h', a1, b1, 33, 0.0006)}
        {L('a', a1, '#00e000')}
        {L('b', b1, '#f00000')}
        {L('y', seq(w3A1Yellow), '#ffff00')}
        {L('bl', seq(w3A1Blue), BLUE, 2.2)}
        {L('re', seq(w3A1Red), RED, 2.2)}
      </Panel>
      <Panel {...P} y={618} h={124} yRef={[1.3, 653.7, 1.25, 707.7]} labels={[1.3, 1.25]} minor={[1.325, 1.275, 1.225]}>
        {L('g', seq(w3B2Gray), '#666666')}
        {Hatch('h', a2, b2, 33, 0.0006)}
        {L('a', a2, '#00e000')}
        {L('b', b2, '#f00000')}
        {L('y', seq(w3B2Yellow), '#ffff00')}
        {L('bl', seq(w3B2Blue), BLUE, 2.2)}
        {L('re', seq(w3B2Red), RED, 2.2)}
      </Panel>
      <Box x={843} y={743} w={356} h={29} bg="#000" />
      <DateBar x={843} y={743} w={293.5} h={20} xDom={xDom} days={w3Days} dayLabels={w3DayLabels} events={w3Events} blockTop={2} lineTop={3} base={19} />
      <Scroll x={843} y={763} w={293} h={9} thumbX={222} thumbW={55} />
      <Refresh x={1157} y={753} />
      <Nav x={1177} y={762} />
      <Txt x={842} y={53} c="#9a9a9a" s={11.5}>% 12,28</Txt>
      <Txt x={901} y={283} c="#ffff30" s={16} b f='"Liberation Serif",serif'>1,2730</Txt>
      <Title y={26} h={11} logoX={1055} logoW={95} btnX={1152} btns={['▾', '–', '□', '×']}
        segs={[{ x: 843, w: 16, t: 'IN' }, { x: 860, w: 43, t: 'TL' }, { x: 905, w: 34, t: 'LIN' }, { x: 941, w: 27, t: 'KHN', c: '#0000e0' }, { x: 970, w: 28, t: 'SVD' }, { x: 1000, w: 26, t: 'SYM' }, { x: 1027, w: 26, t: 'TMP' }]} />
      <Box x={1187} y={38} w={10} h={11} style={{ ...btnStyle, fontSize: 8, lineHeight: '8px' }}>□</Box>
      <Box x={842} y={0} w={1.5} h={775} bg="#8a8a8a" />
    </>
  );
}

function Backdrop() {
  return (
    <>
      <Box x={0} y={3} w={1205} h={1} bg="#d0d0d0" />
      <Box x={465} y={0} w={152} h={15} bg="#b0b0b0" />
      <Box x={620} y={0} w={8} h={15} bg="#dddddd" />
      <Box x={645} y={0} w={200} h={15} bg="#ffffff" />
      <Box x={720} y={0} w={48} h={7} bg="#ffff10" />
      <Box x={716} y={0} w={3} h={4} bg="#0000e0" />
      <Txt x={649} y={-4} c="#1020c0" s={10.5} b>Gumus</Txt>
      <Txt x={649} y={9} c="#1020c0" s={10.5} b>Brent Pet. $</Txt>
      <Txt x={730} y={-4} c="#1020c0" s={10.5} b>15,344</Txt>
      <Txt x={773} y={-4} c="#1020c0" s={10.5} b>+0,70</Txt>
      <Txt x={822} y={-4} c="#1020c0" s={10.5} b>0,15</Txt>
      <Txt x={737} y={9} c="#1020c0" s={10.5} b>76,82</Txt>
      <Txt x={778} y={9} c="#d00000" s={10.5} b>0,50</Txt>
      <Txt x={822} y={9} c="#d00000" s={10.5} b>0,29</Txt>
      <Box x={861} y={0} w={344} h={17} bg="#b0b0b0" />
      <Box x={0} y={775} w={449} h={4} bg="#000" />
    </>
  );
}

export default function App() {
  return (
    <div style={{ position: 'fixed', left: 0, top: 0, width: 1205, height: 779, overflow: 'hidden', background: '#eef3f9' }}>
      <Backdrop />
      <Window1 />
      <Window3 />
      <Window2 />
    </div>
  );
}
